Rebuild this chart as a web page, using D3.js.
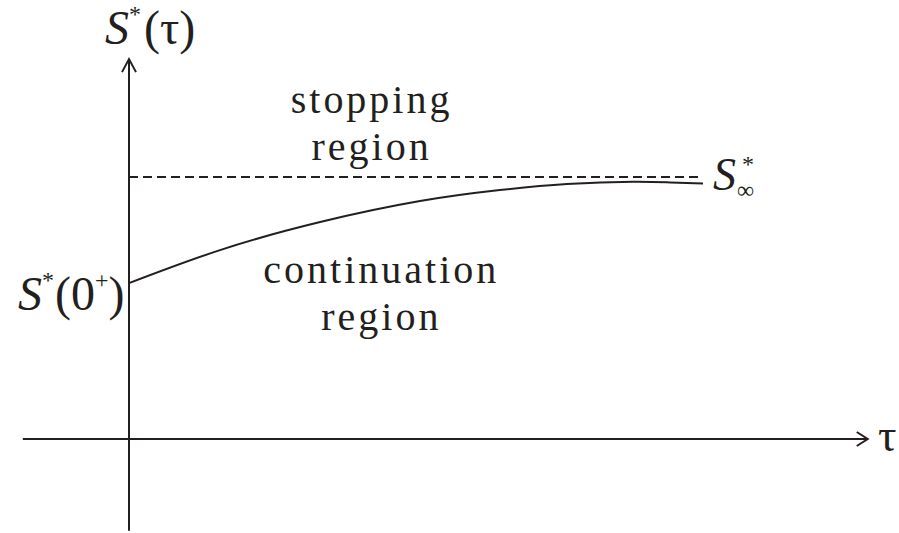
<!DOCTYPE html>
<html>
<head>
<meta charset="utf-8">
<script src="https://cdn.jsdelivr.net/npm/d3@7/dist/d3.min.js"></script>
<style>
  html, body { margin: 0; padding: 0; background: #fff; }
  svg { display: block; }
</style>
</head>
<body>
<svg id="chart" width="899" height="533"></svg>
<script>
// Optimal exercise boundary S*(τ): time to expiry vs. critical price
const tau = [0, 0.1585, 0.333, 0.507, 0.646, 0.763, 0.878, 0.943, 1.0];
const boundary = [0.595, 0.721, 0.828, 0.908, 0.950, 0.973, 0.982, 0.979, 0.975];
const sInfinity = 1.0;          // perpetual limit S*∞
const tauAxisRange = [-0.185, 1.287];
const sAxisRange = [-0.35, 1.45];
const regionLabels = [
  { lines: ["stopping", "region"], tau: 0.42, s: 1.245 },
  { lines: ["continuation", "region"], tau: 0.437, s: 0.597 }
];

const serif = "Liberation Serif";
const svg = d3.select("#chart");
const ink = "#231f20";

const x = d3.scaleLinear().domain([0, 1]).range([129, 703]);
const y = d3.scaleLinear().domain([0, 1]).range([439, 177]);

// axes
const g = svg.append("g");
g.append("line")
  .attr("x1", x(tauAxisRange[0])).attr("x2", x(tauAxisRange[1]))
  .attr("y1", y(0)).attr("y2", y(0))
  .attr("stroke", ink).attr("stroke-width", 2);
g.append("line")
  .attr("x1", x(0)).attr("x2", x(0))
  .attr("y1", y(sAxisRange[0])).attr("y2", y(sAxisRange[1]))
  .attr("stroke", ink).attr("stroke-width", 2);

// open arrowheads
const hx = x(tauAxisRange[1]), hy = y(0);
g.append("path")
  .attr("d", `M${hx - 11},${hy - 7} L${hx},${hy} L${hx - 11},${hy + 7}`)
  .attr("fill", "none").attr("stroke", ink).attr("stroke-width", 2);
const vx = x(0), vy = y(sAxisRange[1]);
g.append("path")
  .attr("d", `M${vx - 7},${vy + 13} L${vx},${vy} L${vx + 7},${vy + 13}`)
  .attr("fill", "none").attr("stroke", ink).attr("stroke-width", 2);

// asymptote S*∞
g.append("line")
  .attr("x1", x(0)).attr("x2", x(1))
  .attr("y1", y(sInfinity)).attr("y2", y(sInfinity))
  .attr("stroke", ink).attr("stroke-width", 1.8)
  .attr("stroke-dasharray", "9,5");

// boundary curve
const line = d3.line()
  .x((d, i) => x(tau[i]))
  .y(d => y(d))
  .curve(d3.curveNatural);
g.append("path")
  .datum(boundary)
  .attr("d", line)
  .attr("fill", "none").attr("stroke", ink).attr("stroke-width", 2);

// region labels, one text per line, tracked out slightly
regionLabels.forEach(r => {
  r.lines.forEach((ln, i) => {
    const t = g.append("text")
      .attr("x", x(r.tau))
      .attr("y", y(r.s) + i * 47)
      .attr("text-anchor", "middle")
      .attr("fill", ink)
      .style("font-family", serif)
      .style("font-size", "40px")
      .text(ln);
    const w = t.node().getComputedTextLength();
    t.attr("textLength", w + 3 * (ln.length - 1)).attr("lengthAdjust", "spacing");
  });
});

// axis titles
function mathText(px, py, size) {
  return g.append("text").attr("x", px).attr("y", py)
    .style("font-family", serif).attr("fill", ink).style("font-size", size + "px");
}

const yt = mathText(105, 44, 48);
yt.append("tspan").style("font-style", "italic").text("S");
yt.append("tspan").style("font-size", "24px").attr("dy", -22).text("*");
yt.append("tspan").attr("dy", 22).attr("dx", 3).text("(τ)");

const s0 = mathText(18, 310, 48);
s0.append("tspan").style("font-style", "italic").text("S");
s0.append("tspan").style("font-size", "24px").attr("dy", -22).text("*");
s0.append("tspan").attr("dy", 22).attr("dx", 1).text("(0");
s0.append("tspan").style("font-size", "24px").attr("dy", -22).text("+");
s0.append("tspan").attr("dy", 22).text(")");

const si = mathText(713, 190, 46);
si.append("tspan").style("font-style", "italic").text("S");
mathText(737, 198, 24).text("∞");
mathText(742, 172, 24).text("*");

mathText(878, 451, 46).text("τ");
</script>
</body>
</html>
